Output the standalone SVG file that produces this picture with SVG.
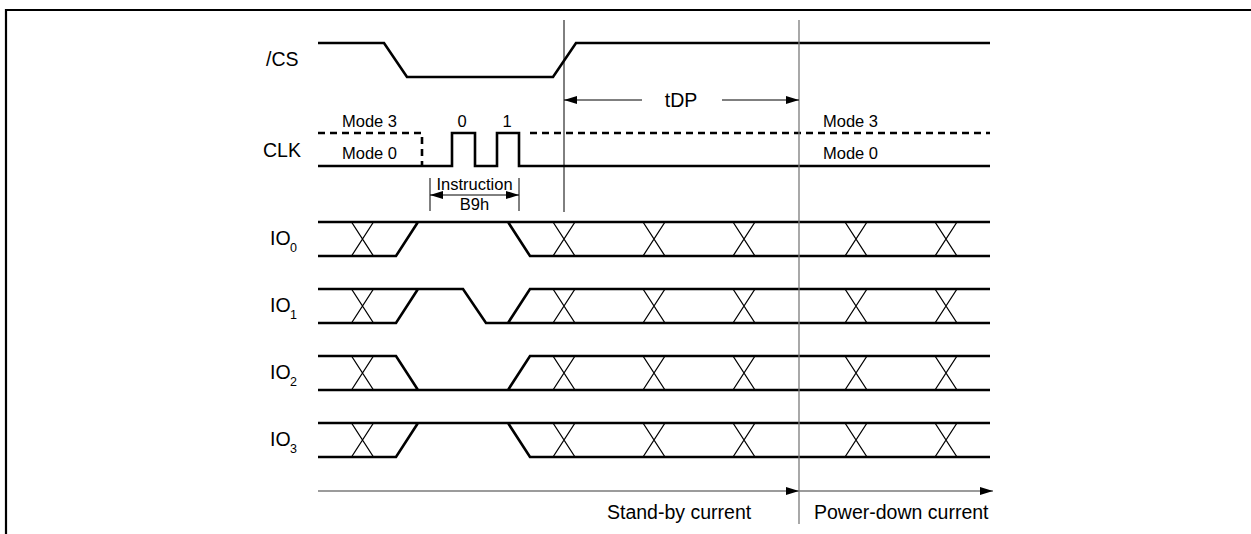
<svg xmlns="http://www.w3.org/2000/svg" width="1251" height="534" viewBox="0 0 1251 534">
<style>
.sig{fill:none;stroke:#000;stroke-width:2.6;stroke-linejoin:miter}
.dash{fill:none;stroke:#000;stroke-width:2.6;stroke-dasharray:7 5}
.x{fill:none;stroke:#000;stroke-width:1.3}
.lbl{font-family:"Liberation Sans",Arial,sans-serif;font-size:19.5px;fill:#000}
.sub{font-family:"Liberation Sans",Arial,sans-serif;font-size:12.5px;fill:#000}
.sm{font-family:"Liberation Sans",Arial,sans-serif;font-size:16.5px;fill:#000}
.big{font-family:"Liberation Sans",Arial,sans-serif;font-size:19.5px;fill:#000}
.thin{fill:none;stroke:#000;stroke-width:1}
.gray{fill:none;stroke:#7a7a7a;stroke-width:1.3}
</style>
<defs>
<marker id="ah" viewBox="0 0 13 8" refX="13" refY="4" markerWidth="13" markerHeight="8" markerUnits="userSpaceOnUse" orient="auto-start-reverse">
<path d="M0,0 L13,4 L0,8 z" fill="#000"/>
</marker>
<g id="xs">
<path class="x" d="M-11,0 L11,34 M11,0 L-11,34"/>
</g>
</defs>
<rect width="1251" height="534" fill="#fff"/>
<g id="frame">
<path d="M6,534 V10 H1251" fill="none" stroke="#000" stroke-width="2.2"/>
</g>

<g id="cs">
<text class="lbl" x="266" y="66">/CS</text>
<path class="sig" d="M318,43 H384 L407,77 H553 L576,43 H990"/>
</g>

<g id="clk">
<text class="lbl" x="263" y="157">CLK</text>
<text class="sm" x="342" y="127">Mode 3</text>
<text class="sm" x="342" y="159">Mode 0</text>
<text class="sm" x="462" y="127" text-anchor="middle">0</text>
<text class="sm" x="507" y="127" text-anchor="middle">1</text>
<text class="sm" x="823" y="127">Mode 3</text>
<text class="sm" x="823" y="159">Mode 0</text>
<path class="dash" d="M318,133 H422 V166"/>
<path class="dash" d="M530,133 H990"/>
<path class="sig" d="M318,166 H452 V133 H475 V166 H497 V133 H519 V166 H990"/>
</g>

<g id="io0">
<text class="lbl" x="270" y="245">IO</text><text class="sub" x="290" y="252">0</text>
<path class="sig" d="M318,222 H990 M318,256 H396 L418,222 M508,222 L530,256 H990"/>
<use href="#xs" x="362.5" y="222"/><use href="#xs" x="564" y="222"/><use href="#xs" x="654" y="222"/><use href="#xs" x="744" y="222"/><use href="#xs" x="856" y="222"/><use href="#xs" x="946" y="222"/>
</g>

<g id="io1">
<text class="lbl" x="270" y="312">IO</text><text class="sub" x="290" y="319">1</text>
<path class="sig" d="M318,289 H463 L486,323 H990 M318,323 H396 L418,289 M508,323 L530,289 H990"/>
<use href="#xs" x="362.5" y="289"/><use href="#xs" x="564" y="289"/><use href="#xs" x="654" y="289"/><use href="#xs" x="744" y="289"/><use href="#xs" x="856" y="289"/><use href="#xs" x="946" y="289"/>
</g>

<g id="io2">
<text class="lbl" x="270" y="379">IO</text><text class="sub" x="290" y="386">2</text>
<path class="sig" d="M318,356 H396 L418,390 M318,390 H990 M508,390 L530,356 H990"/>
<use href="#xs" x="362.5" y="356"/><use href="#xs" x="564" y="356"/><use href="#xs" x="654" y="356"/><use href="#xs" x="744" y="356"/><use href="#xs" x="856" y="356"/><use href="#xs" x="946" y="356"/>
</g>

<g id="io3">
<text class="lbl" x="270" y="446">IO</text><text class="sub" x="290" y="453">3</text>
<path class="sig" d="M318,423 H990 M318,457 H396 L418,423 M508,423 L530,457 H990"/>
<use href="#xs" x="362.5" y="423"/><use href="#xs" x="564" y="423"/><use href="#xs" x="654" y="423"/><use href="#xs" x="744" y="423"/><use href="#xs" x="856" y="423"/><use href="#xs" x="946" y="423"/>
</g>

<g id="connectors">
<path class="thin" d="M564,20 V212"/>
<path class="gray" d="M799,20 V524"/>
<path class="thin" d="M564,100 H642" marker-start="url(#ah)"/>
<path class="thin" d="M722,100 H799" marker-end="url(#ah)"/>
<text class="big" x="681" y="107" text-anchor="middle">tDP</text>
<path class="thin" d="M430,178 V211 M519,178 V211"/>
<path class="thin" d="M430,195 H519" marker-start="url(#ah)" marker-end="url(#ah)"/>
<text class="sm" x="474.5" y="190" text-anchor="middle">Instruction</text>
<text class="sm" x="474.5" y="210" text-anchor="middle">B9h</text>
<path class="gray" d="M318,491 H799" marker-end="url(#ah)" stroke="#555"/>
<path class="gray" d="M799,491 H993" marker-end="url(#ah)" stroke="#555"/>
<text class="big" x="607" y="519">Stand-by current</text>
<text class="big" x="814" y="519">Power-down current</text>
</g>
</svg>
